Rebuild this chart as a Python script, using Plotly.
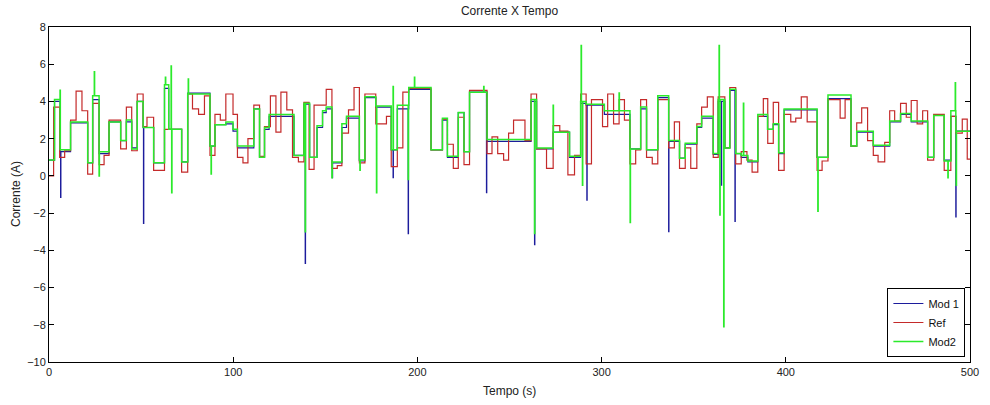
import plotly.graph_objects as go

# ---------------- data ----------------
# Reference current: step start times (s) and levels (A)
ref_t = [0.0, 2.5, 5.8, 8.5, 11.7, 14.7, 17.9, 21.0, 23.7, 27.2, 29.9, 32.6, 38.9, 42.0, 44.9,
         47.9, 51.1, 53.2, 56.8, 62.7, 72.0, 75.3, 77.9, 81.2, 84.4, 87.4, 90.1, 93.0, 96.0,
         99.9, 102.3, 105.3, 108.0, 111.2, 114.3, 117.0, 120.2, 123.2, 125.9, 129.1, 132.2,
         135.4, 138.4, 141.2, 143.9, 150.5, 153.6, 156.5, 159.0, 162.6, 165.6, 168.5, 171.5,
         177.4, 183.2, 185.8, 189.1, 192.1, 195.3, 207.4, 213.6, 216.3, 219.5, 222.2, 225.3,
         228.3, 237.8, 240.5, 243.6, 246.8, 249.5, 252.2, 258.4, 261.7, 264.7, 270.1, 273.7,
         277.3, 281.7, 285.3, 288.6, 291.6, 294.5, 300.5, 303.3, 306.5, 309.5, 312.4, 315.4,
         318.5, 321.2, 324.4, 327.5, 330.5, 336.4, 339.5, 342.3, 345.4, 348.4, 351.7, 354.3,
         357.4, 360.6, 363.3, 366.9, 369.6, 372.8, 375.8, 378.9, 381.7, 384.8, 387.8, 390.2,
         393.2, 396.1, 399.1, 402.7, 405.4, 408.4, 411.6, 417.0, 419.7, 422.9, 429.5, 432.2,
         435.4, 438.5, 441.2, 444.4, 447.5, 450.1, 453.7, 456.4, 459.1, 462.3, 465.4, 468.1,
         471.3, 474.3, 477.0, 480.3, 486.0, 489.6, 492.3, 495.8, 498.5]
ref_v = [0.0, 3.7, 1.0, 1.35, 3.0, 4.55, 3.5, 0.1, 3.9, 0.6, 1.1, 3.0, 1.45, 3.7, 1.35,
         4.4, 2.65, 3.15, 0.3, 2.5, 0.2, 4.4, 3.6, 3.3, 4.3, 1.1, 3.3, 3.0, 4.4,
         3.3, 1.0, 0.7, 2.0, 3.8, 1.05, 2.65, 4.3, 2.35, 4.5, 3.55, 1.0,
         0.75, 3.95, 0.35, 3.8, 4.65, 0.4, 0.55, 2.3, 3.55, 4.75, 0.7, 4.4,
         2.8, 3.2, 0.5, 1.5, 4.5, 4.7, 1.4, 3.05, 1.7, 0.4, 3.15, 0.6,
         4.6, 1.2, 2.1, 1.2, 0.85, 2.3, 3.0, 1.9, 4.4, 1.45, 0.4, 2.7,
         2.4, 0.05, 1.1, 4.4, 0.65, 4.1, 2.65, 4.4, 2.8, 4.1, 3.0, 0.65,
         1.4, 4.1, 1.0, 0.65, 4.1, 1.5, 2.9, 0.4, 1.5, 0.4, 2.8, 3.7,
         4.25, 1.0, 4.25, 1.5, 4.75, 0.65, 1.3, 0.85, 0.2, 3.2, 4.15, 1.75,
         3.95, 0.3, 3.3, 2.9, 3.1, 4.25, 2.9, 0.3, 0.8, 4.1, 3.1, 4.1,
         1.6, 2.85, 3.65, 1.9, 1.1, 0.75, 1.8, 3.5, 2.95, 3.9, 3.15, 4.05,
         2.8, 3.5, 0.85, 3.3, 0.3, 3.2, 2.3, 3.05, 0.9]

# Model outputs: level start times (s) and levels (A)
mod_t = [0.0, 3.0, 6.0, 11.7, 21.0, 23.7, 27.2, 32.6, 38.9, 42.0, 44.9, 47.9, 51.1, 56.8,
         62.7, 65.0, 72.0, 75.3, 87.4, 90.1, 96.0, 99.9, 102.3, 111.2, 114.3, 117.0, 119.5,
         133.0, 138.4, 141.5, 145.5, 148.5, 150.5, 153.6, 159.0, 161.5, 168.5, 171.5, 177.4,
         185.8, 189.1, 195.3, 207.4, 213.6, 216.3, 222.2, 225.3, 228.3, 237.8, 261.7, 264.7,
         273.7, 282.6, 288.6, 291.6, 301.5, 315.4, 321.2, 324.4, 330.5, 336.4, 342.3, 345.4,
         351.7, 354.3, 360.6, 363.3, 366.9, 369.6, 372.8, 375.8, 379.4, 384.8, 390.1, 393.2,
         396.1, 399.1, 417.0, 422.9, 435.4, 438.5, 447.5, 456.4, 462.3, 468.1, 477.0, 480.3,
         486.0, 489.6, 492.3]
mod1_v = [0.85, 4.0, 1.3, 2.85, 0.7, 4.1, 1.2, 2.9, 1.9, 2.9, 1.5, 4.0, 2.6, 0.7,
          4.7, 2.5, 0.75, 4.45, 1.6, 2.75, 2.8, 2.4, 1.5, 3.6, 1.0, 2.5, 3.2,
          1.1, 3.85, 1.0, 2.6, 3.4, 3.6, 0.7, 2.6, 3.1, 0.8, 4.2, 3.7,
          1.4, 3.6, 4.65, 1.4, 3.0, 1.0, 3.4, 1.3, 4.5, 1.85, 4.0, 1.45,
          2.35, 1.0, 3.9, 3.8, 3.3, 1.45, 3.6, 1.4, 4.2, 1.85, 0.95, 1.7,
          2.6, 3.1, 1.15, 4.0, 1.5, 4.6, 1.2, 1.0, 0.75, 3.2, 2.5, 2.75,
          1.2, 3.55, 1.0, 4.15, 1.6, 2.35, 1.6, 2.9, 3.3, 2.9, 1.0, 3.25,
          0.85, 3.2, 2.4]
mod2_v = [0.85, 4.1, 1.4, 2.9, 0.7, 4.3, 1.3, 2.9, 1.9, 3.0, 1.45, 4.0, 2.6, 0.7,
          4.9, 2.5, 0.75, 4.4, 1.6, 2.75, 2.9, 2.5, 1.6, 3.6, 1.0, 2.6, 3.3,
          1.1, 3.9, 1.0, 2.7, 3.5, 3.7, 0.75, 2.8, 3.2, 0.85, 4.25, 3.75,
          1.4, 3.8, 4.75, 1.4, 3.1, 1.05, 3.4, 1.3, 4.5, 1.95, 4.1, 1.5,
          2.35, 1.05, 4.0, 3.85, 3.5, 1.45, 3.7, 1.4, 4.3, 1.9, 0.95, 1.75,
          2.65, 3.2, 1.2, 4.1, 1.5, 4.65, 1.2, 1.1, 0.8, 3.3, 2.5, 2.8,
          1.25, 3.6, 1.0, 4.35, 1.6, 2.4, 1.65, 2.95, 3.35, 2.95, 1.0, 3.25,
          0.8, 3.5, 2.4]

# Transient spikes (time s, peak A)
mod1_spike_t = [6.3, 51.3, 139.1, 153.8, 186.8, 195.0, 237.5, 263.6, 292.0, 336.4, 365.0, 372.4, 492.3]
mod1_spike_v = [-1.15, -2.55, -4.7, -0.1, -0.1, -3.1, -0.9, -3.7, -1.3, -3.0, -0.5, -2.45, -2.2]
mod2_spike_t = [6.0, 24.6, 27.2, 63.2, 66.3, 66.6, 75.6, 88.0, 139.1, 153.6, 168.8, 177.8,
                186.8, 195.0, 198.4, 236.0, 263.6, 273.7, 288.9, 289.6, 309.5, 315.5, 363.8,
                364.2, 366.3, 377.0, 417.4, 488.0, 492.0, 492.5]
mod2_spike_v = [4.6, 5.6, 0.0, 5.3, 5.9, -0.9, 5.2, 0.1, -3.0, -0.1, 0.3, -0.9,
                4.8, -0.2, 5.3, 4.8, -3.1, 3.8, 7.0, -0.5, 4.45, -2.5, 7.0,
                -2.1, -8.1, 3.9, -1.9, -0.1, 5.0, -0.5]

T_END = 500.0


def build(ts, vs, sp_t=(), sp_v=()):
    events = [(t, 0, v) for t, v in zip(ts, vs)] + [(t, 1, v) for t, v in zip(sp_t, sp_v)]
    events.sort()
    xs, ys = [], []
    cur = vs[0]
    for t, kind, v in events:
        if kind == 0:
            xs.append(t); ys.append(v); cur = v
        else:
            xs.append(t); ys.append(v)
            xs.append(t + 0.15); ys.append(cur)
    xs.append(T_END); ys.append(cur)
    return xs, ys


m1x, m1y = build(mod_t, mod1_v, mod1_spike_t, mod1_spike_v)
rx, ry = build(ref_t, ref_v)
m2x, m2y = build(mod_t, mod2_v, mod2_spike_t, mod2_spike_v)

FONT = "Liberation Sans, Arial, Helvetica, sans-serif"

fig = go.Figure()
fig.add_trace(go.Scatter(x=m1x, y=m1y, mode="lines", name="Mod 1",
                         line=dict(color="#1c1c9c", width=1.2, shape="hv")))
fig.add_trace(go.Scatter(x=rx, y=ry, mode="lines", name="Ref",
                         line=dict(color="#c42a2a", width=1.2, shape="hv")))
fig.add_trace(go.Scatter(x=m2x, y=m2y, mode="lines", name="Mod2",
                         line=dict(color="#2bea2b", width=1.5, shape="hv")))

axis_common = dict(showline=True, linecolor="#000000", linewidth=1, mirror="ticks",
                   ticks="inside", ticklen=5, tickcolor="#000000", showgrid=False,
                   zeroline=False, tickfont=dict(family=FONT, size=11, color="#222222"))

fig.update_layout(
    width=990, height=405,
    margin=dict(l=49, r=11, t=27, b=43),
    paper_bgcolor="white", plot_bgcolor="white",
    font=dict(family=FONT, size=11, color="#222222"),
    title=dict(text="Corrente X Tempo", x=0.5, xref="paper", y=1 - 11 / 405,
               yref="container", yanchor="middle", font=dict(family=FONT, size=12)),
    xaxis=dict(range=[0, 500], tick0=0, dtick=100, **axis_common),
    yaxis=dict(range=[-10, 8], tick0=-10, dtick=2, **axis_common),
    legend=dict(x=0.995, xanchor="right", y=0.015, yanchor="bottom",
                bgcolor="white", bordercolor="#000000", borderwidth=1,
                font=dict(family=FONT, size=11, color="#111111"),
                tracegroupgap=0),
    showlegend=True,
    annotations=[
        dict(text="Tempo (s)", xref="paper", yref="paper", x=0.5,
             y=-(391 - 362.3) / 335.6, yanchor="middle", showarrow=False,
             font=dict(family=FONT, size=12)),
        dict(text="Corrente (A)", xref="paper", yref="paper",
             x=-(49.3 - 16) / 930, xanchor="center",
             y=(362.3 - 194) / 335.6, yanchor="middle", showarrow=False,
             textangle=-90, font=dict(family=FONT, size=12)),
    ],
)

fig.write_html("out.html")
